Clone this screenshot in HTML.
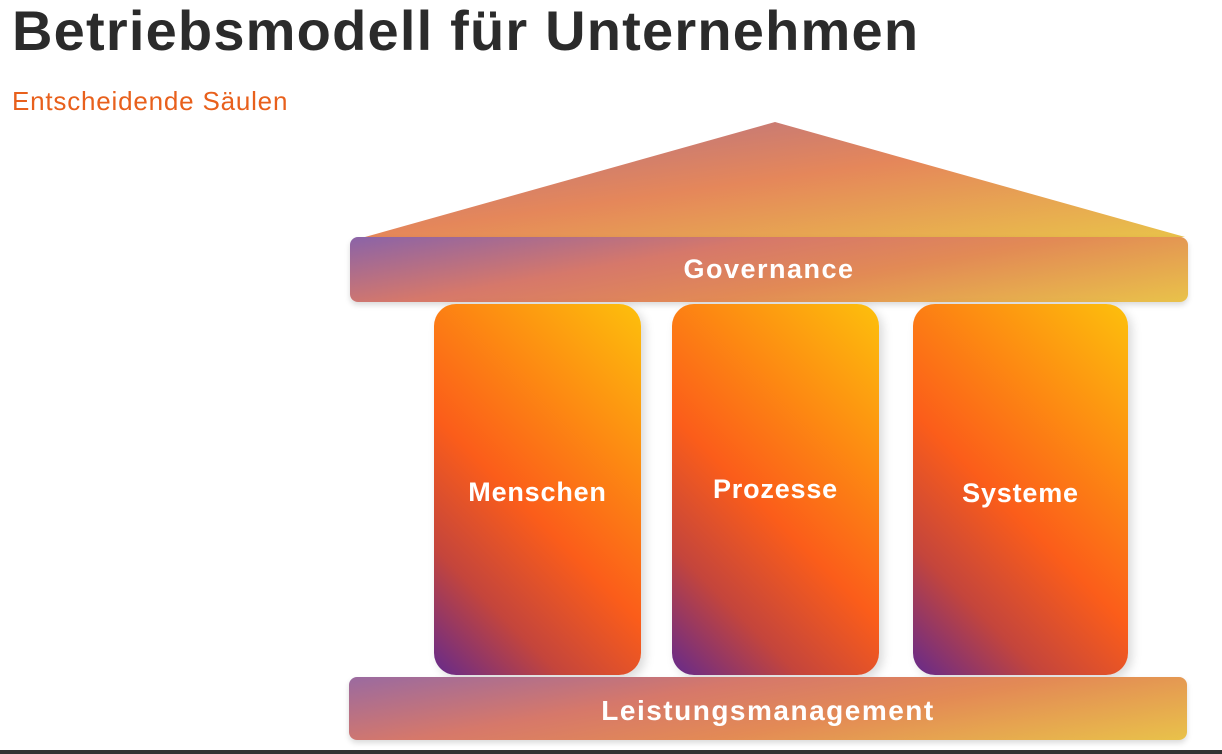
<!DOCTYPE html>
<html><head><meta charset="utf-8"><style>
body{margin:0;width:1222px;height:754px;background:#fff;position:relative;overflow:hidden;font-family:"Liberation Sans",sans-serif}
.t{position:absolute;left:12px;top:-2px;font-size:56px;font-weight:bold;color:#2b2b2b;letter-spacing:1.2px}
.s{position:absolute;left:12px;top:86px;font-size:26px;color:#e8601c;letter-spacing:0.8px}
.bar{position:absolute;border-radius:8px;color:#fff;font-weight:bold;display:flex;align-items:center;justify-content:center;box-shadow:0 3px 6px rgba(0,0,0,.15)}
.p{position:absolute;top:304px;height:371px;border-radius:22px;background:linear-gradient(225deg,#fdc00c 0%,#fd8a12 30%,#fb5d1a 55%,#c4453c 78%,#652a8c 100%);color:#fff;font-weight:bold;font-size:27px;letter-spacing:0.8px;display:flex;align-items:center;justify-content:center;box-shadow:4px 4px 10px rgba(0,0,0,.15)}
</style></head><body>
<div class="t">Betriebsmodell für Unternehmen</div>
<div class="s">Entscheidende Säulen</div>
<svg style="position:absolute;left:0;top:0" width="1222" height="754">
<defs><linearGradient id="g" x1="0" y1="0" x2="1" y2="1"><stop offset="0" stop-color="#b0708a"/><stop offset=".5" stop-color="#e5875a"/><stop offset="1" stop-color="#e9c24a"/></linearGradient></defs>
<polygon points="775,122 365,237 1185,237" fill="url(#g)"/>
<rect x="0" y="750" width="1222" height="4" fill="#333"/>
</svg>
<div class="bar" style="left:350px;top:237px;width:838px;height:65px;font-size:27px;letter-spacing:1.5px;background:linear-gradient(170deg,#8a63a8 0%,#d6786a 35%,#e28a55 60%,#e9c24a 100%)">Governance</div>
<div class="p" style="left:434px;width:207px;padding-top:6px;box-sizing:border-box">Menschen</div>
<div class="p" style="left:672px;width:207px">Prozesse</div>
<div class="p" style="left:913px;width:215px;padding-top:8px;box-sizing:border-box">Systeme</div>
<div class="bar" style="left:349px;top:677px;width:838px;height:63px;font-size:28px;letter-spacing:1.5px;padding-top:4px;box-sizing:border-box;background:linear-gradient(170deg,#9a6aa0 0%,#d6786a 35%,#e38a55 60%,#e9c24a 100%)">Leistungsmanagement</div>
</body></html>
